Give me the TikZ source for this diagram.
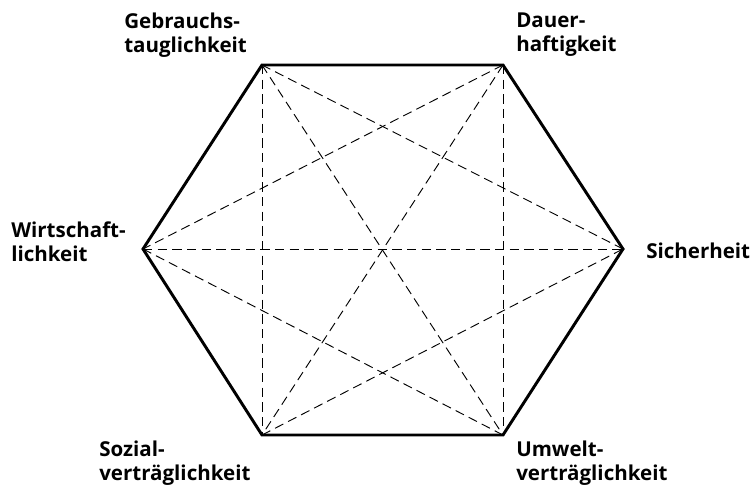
\documentclass[tikz,border=0pt]{standalone}
\usepackage{fontspec}
\setmainfont{Open Sans}
\begin{document}
\begin{tikzpicture}[x=0.75pt,y=-0.75pt,
  lbl/.style={font=\bfseries\fontsize{15.4}{17.4}\selectfont,align=left,inner sep=0pt},
  hexline/.style={line width=2.2pt,line join=miter},
  diag/.style={line width=0.7pt,dash pattern=on 7pt off 4pt}]
\useasboundingbox (0,0) rectangle (754,492);
\coordinate (TL) at (262,65);
\coordinate (TR) at (503,65);
\coordinate (R) at (623,249);
\coordinate (BR) at (503,435);
\coordinate (BL) at (262,435);
\coordinate (L) at (143,249);
\draw[diag] (TL) -- (BL);
\draw[diag] (TR) -- (BR);
\draw[diag] (L) -- (R);
\draw[diag] (TL) -- (BR);
\draw[diag] (TR) -- (BL);
\draw[diag] (TL) -- (R);
\draw[diag] (TR) -- (L);
\draw[diag] (BL) -- (R);
\draw[diag] (BR) -- (L);
\draw[hexline] (TL) -- (TR) -- (R) -- (BR) -- (BL) -- (L) -- cycle;
\node[lbl,anchor=north west] (g) at (124,13) {Gebrauchs-\\tauglichkeit};
\node[lbl,anchor=north west] (d) at (516,13) {Dauer-\\haftigkeit};
\node[lbl,anchor=north west] (w) at (11,222) {Wirtschaft-\\lichkeit};
\node[lbl,anchor=west] (s) at (646,251) {Sicherheit};
\node[lbl,anchor=north west] (so) at (99,441) {Sozial-\\verträglichkeit};
\node[lbl,anchor=north west] (u) at (516,441) {Umwelt-\\verträglichkeit};
\end{tikzpicture}
\end{document}
